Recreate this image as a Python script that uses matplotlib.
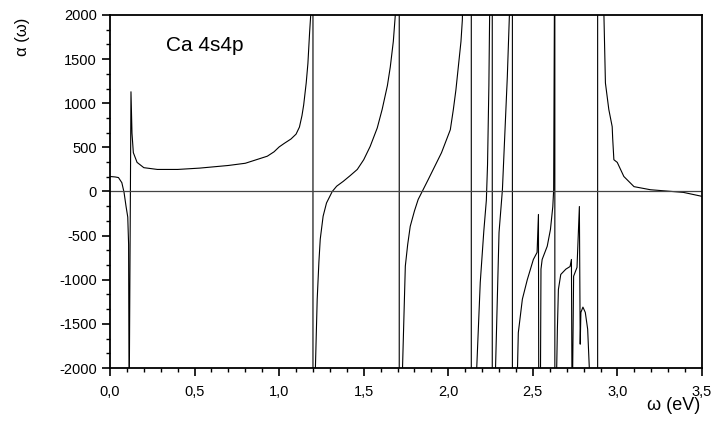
import numpy as np
import matplotlib
matplotlib.use("Agg")
import matplotlib.pyplot as plt
from matplotlib.ticker import AutoMinorLocator, FuncFormatter, MultipleLocator

matplotlib.rc('font', family=['Liberation Sans', 'DejaVu Sans'], size=10)
matplotlib.rcParams['axes.unicode_minus'] = False

# alpha(omega) for Ca 4s4p; +-2500 marks the jumps across poles
omega = [0.0, 0.03, 0.05, 0.07, 0.083, 0.095, 0.105, 0.110, 0.113,
         0.124, 0.130, 0.138, 0.16, 0.20, 0.28, 0.40, 0.53, 0.70, 0.80, 0.93,
         0.97, 1.00, 1.03, 1.07, 1.10, 1.12, 1.135, 1.145, 1.16, 1.17, 1.18, 1.19, 1.20,
         1.20, 1.213, 1.225, 1.235, 1.243, 1.26, 1.28, 1.314, 1.34, 1.379, 1.42,
         1.462, 1.50, 1.538, 1.58, 1.609, 1.64, 1.657, 1.675, 1.686, 1.695, 1.71,
         1.71, 1.728, 1.746, 1.76, 1.775, 1.80, 1.822, 1.846, 1.88, 1.911, 1.96,
         2.012, 2.03, 2.045, 2.059, 2.075, 2.083, 2.09, 2.136,
         2.136, 2.166, 2.189, 2.21, 2.225, 2.232, 2.24, 2.245, 2.26,
         2.26, 2.278, 2.29, 2.30, 2.32, 2.349, 2.361, 2.365, 2.379,
         2.379, 2.408, 2.414, 2.438, 2.467, 2.503, 2.525, 2.533, 2.535,
         2.545, 2.548, 2.555, 2.585, 2.604, 2.618, 2.623, 2.627, 2.63,
         2.63, 2.640, 2.645, 2.651, 2.665, 2.695, 2.72, 2.728, 2.732,
         2.735, 2.741, 2.761, 2.775, 2.78,
         2.784, 2.796, 2.81, 2.824, 2.836, 2.875, 2.883,
         2.883, 2.919, 2.929, 2.949, 2.969, 2.972, 2.979, 2.999, 3.038, 3.098,
         3.195, 3.39, 3.5]
alpha = [170, 165, 158, 100, -10, -170, -290, -600, -2500,
         1130, 660, 440, 330, 270, 250, 250, 265, 295, 320, 400,
         450, 505, 545, 595, 650, 730, 860, 980, 1230, 1450, 1800, 2100, 2500,
         -2500, -2100, -1220, -800, -540, -280, -130, 0, 60, 115, 180,
         250, 360, 510, 720, 930, 1200, 1410, 1700, 1980, 2500, 2500,
         -2500, -2100, -845, -600, -395, -220, -90, 0, 130, 250, 440,
         700, 930, 1150, 1410, 1700, 1940, 2500, 2500,
         -2500, -2100, -1030, -450, -100, 300, 1200, 2100, 2500,
         -2500, -2100, -1220, -465, 20, 1300, 1980, 2500, 2500,
         -2500, -2100, -1600, -1220, -1000, -770, -690, -260, -2500,
         -2100, -880, -770, -620, -430, -170, 20, 2100, 2500,
         -2500, -2100, -1560, -1110, -940, -880, -850, -770, -2500,
         -2100, -960, -860, -170, -1730,
         -1370, -1310, -1370, -1560, -2100, -2500, -2500,
         2500, 2100, 1230, 930, 735, 600, 360, 330, 170, 55,
         20, -10, -55]

fig = plt.figure(figsize=(7.15, 4.23), dpi=100)
ax = fig.add_axes([110/715, 1-368/423, 592/715, 353/423])

ax.plot(omega, alpha, color='black', lw=0.8)
ax.axhline(0, color='#444444', lw=0.9)

ax.set_xlim(0, 3.5)
ax.set_ylim(-2000, 2000)
ax.xaxis.set_major_locator(MultipleLocator(0.5))
ax.xaxis.set_minor_locator(AutoMinorLocator(5))
ax.yaxis.set_major_locator(MultipleLocator(500))
ax.yaxis.set_minor_locator(AutoMinorLocator(3))
ax.xaxis.set_major_formatter(FuncFormatter(lambda v, p: "{:.1f}".format(v).replace('.', ',')))
ax.tick_params(which='major', direction='out', length=6, width=1.2, labelsize=10.5)
ax.tick_params(which='minor', direction='out', length=3, width=1.0)
ax.tick_params(axis='x', pad=6)
for sp in ax.spines.values():
    sp.set_linewidth(1.3)

ax.text(0.33, 1660, 'Ca 4s4p', fontsize=15, va='center', ha='left')
fig.text(22/715, 1-18/423, 'α (ω)', rotation=90, ha='center', va='top', fontsize=12)
fig.text(700/715, 1-405/423, 'ω (eV)', ha='right', va='center', fontsize=13)

fig.savefig('out.png', dpi=100)
